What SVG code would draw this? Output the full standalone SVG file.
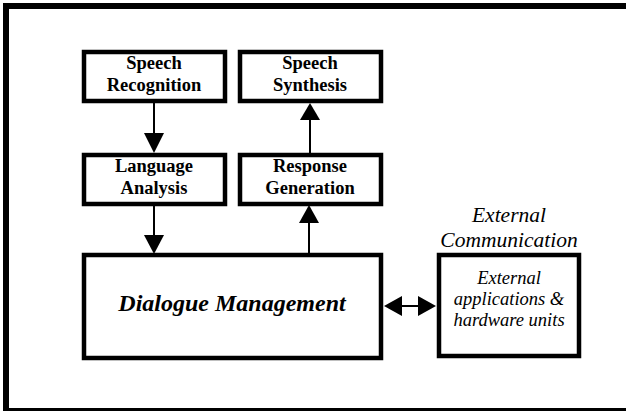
<svg xmlns="http://www.w3.org/2000/svg" width="626" height="411" viewBox="0 0 626 411">
<defs>
<style>
.box{fill:#fff;stroke:#000;stroke-width:4.5}
.b{font-family:"Liberation Serif","Times New Roman",serif;font-weight:bold;font-size:18.5px;text-anchor:middle;fill:#000}
.i{font-family:"Liberation Serif","Times New Roman",serif;font-style:italic;text-anchor:middle;fill:#000}
.ln{stroke:#000;stroke-width:2;fill:none}
</style>
</defs>
<rect x="0" y="0" width="626" height="411" fill="#fff"/>
<rect x="6" y="6" width="650" height="405" fill="none" stroke="#000" stroke-width="6"/>
<g id="connectors">
<line class="ln" x1="154" y1="103" x2="154" y2="134"/>
<path d="M144,133 L164,133 L154,153 Z"/>
<line class="ln" x1="310" y1="153" x2="310" y2="119"/>
<path d="M300,120 L320,120 L310,103 Z"/>
<line class="ln" x1="154" y1="206" x2="154" y2="236"/>
<path d="M144,235 L164,235 L154,254 Z"/>
<line class="ln" x1="309" y1="253" x2="309" y2="222"/>
<path d="M299,223 L319,223 L309,205 Z"/>
<line class="ln" x1="400" y1="306" x2="420" y2="306"/>
<path d="M384,306 L402,296 L402,316 Z"/>
<path d="M436,306 L418,296 L418,316 Z"/>
</g>
<g id="speech-recognition">
<rect class="box" x="84" y="52" width="141" height="49"/>
<text class="b" x="154" y="69">Speech</text>
<text class="b" x="154" y="91">Recognition</text>
</g>
<g id="speech-synthesis">
<rect class="box" x="240" y="52" width="141" height="49"/>
<text class="b" x="310" y="69">Speech</text>
<text class="b" x="310" y="91">Synthesis</text>
</g>
<g id="language-analysis">
<rect class="box" x="84" y="155" width="141" height="49"/>
<text class="b" x="154" y="172">Language</text>
<text class="b" x="154" y="194">Analysis</text>
</g>
<g id="response-generation">
<rect class="box" x="240" y="155" width="141" height="49"/>
<text class="b" x="310" y="172">Response</text>
<text class="b" x="310" y="194">Generation</text>
</g>
<g id="dialogue-management">
<rect class="box" x="84" y="255" width="297" height="103"/>
<text class="i" x="232" y="311" font-weight="bold" font-size="24">Dialogue Management</text>
</g>
<g id="external">
<text class="i" x="509" y="222" font-size="21.5">External</text>
<text class="i" x="509" y="247" font-size="21.5">Communication</text>
<rect class="box" x="439" y="255" width="140" height="101"/>
<text class="i" x="509" y="284" font-size="18.5">External</text>
<text class="i" x="509" y="305" font-size="18.5">applications &amp;</text>
<text class="i" x="509" y="326" font-size="18.5">hardware units</text>
</g>
</svg>
